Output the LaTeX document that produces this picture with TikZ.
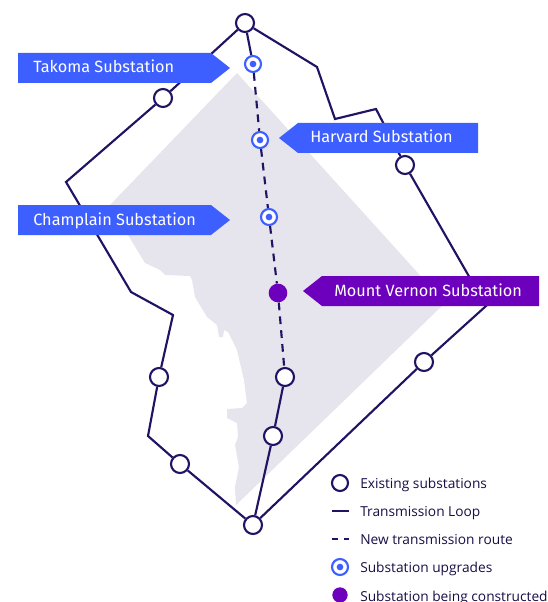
\documentclass[tikz,border=0pt]{standalone}
\usepackage{fontspec}
\setmainfont{Fira Sans}
\newfontfamily\legendfont{Open Sans}
\definecolor{navy}{HTML}{1F1464}
\definecolor{lblue}{HTML}{3E5FFF}
\definecolor{lpurple}{HTML}{6D00BD}
\definecolor{mapgray}{HTML}{E6E5EE}
\tikzset{
  loopline/.style={draw=navy,line width=1.6pt,line join=miter},
  newroute/.style={draw=navy,line width=1.6pt,dash pattern=on 5.8pt off 4.6pt},
  existing/.style={circle,draw=navy,fill=white,line width=1.6pt,minimum size=13.5pt,inner sep=0pt},
  upgrade/.style={circle,draw=lblue,fill=white,line width=1.6pt,minimum size=12pt,inner sep=0pt,
    path picture={\fill[lblue] (path picture bounding box.center) circle (2.5pt);}},
  newsub/.style={circle,fill=lpurple,minimum size=14pt,inner sep=0pt},
  tag/.style={text=white,font=\fontsize{12.2pt}{14pt}\selectfont,anchor=base west,inner sep=0pt},
  legendtext/.style={text=navy!70!black,font=\legendfont\fontsize{10.3pt}{12pt}\selectfont,anchor=base west,inner sep=0pt},
}
\begin{document}
\begin{tikzpicture}[x=0.75pt,y=-0.75pt]
\useasboundingbox (0,0) rectangle (547,602);
\fill[mapgray] (237,73) -- (445,303) -- (236,505) -- (235,487) -- (239,467) -- (235,445) -- (238,437) -- (237,423) -- (227,418) -- (227,409) -- (242,408) -- (247,403) -- (244,380) -- (240,363) -- (237,350) -- (228,332) -- (224,330) -- (223,337) -- (219,337) -- (217,325) -- (207,317) -- (195,297) -- (192,280) -- (190,276) -- (165,275) -- (160,270) -- (145,263) -- (128,235) -- (110,205) -- cycle;
% substations
\node[existing] (top) at (245,23) {};
\node[existing] (n1) at (163,98) {};
\node[existing] (e1) at (405,165) {};
\node[existing] (e2) at (424,362) {};
\node[existing] (w1) at (159,377) {};
\node[existing] (w2) at (180,464) {};
\node[existing] (s1) at (285,377) {};
\node[existing] (s2) at (273,436) {};
\node[existing] (bot) at (253,525) {};
\node[upgrade] (tak) at (253,64) {};
\node[upgrade] (har) at (260,140) {};
\node[upgrade] (cha) at (269,217) {};
\node[newsub] (mv) at (278,293) {};
% bends
\coordinate (b1) at (317,67);
\coordinate (b2) at (335,119);
\coordinate (b3) at (376,109);
\coordinate (b4) at (486,306);
\coordinate (b5) at (66,182);
\coordinate (b6) at (131,292);
\coordinate (b7) at (173,315);
\coordinate (b8) at (148,436);
% loop
\draw[loopline] (top) -- (b1) -- (b2) -- (b3) -- (e1);
\draw[loopline] (e1) -- (b4) -- (e2);
\draw[loopline] (e2) -- (bot);
\draw[loopline] (top) -- (n1);
\draw[loopline] (n1) -- (b5) -- (b6) -- (b7) -- (w1);
\draw[loopline] (w1) -- (b8) -- (w2);
\draw[loopline] (w2) -- (bot);
\draw[loopline] (top) -- (tak);
\draw[loopline] (s1) -- (s2);
\draw[loopline] (s2) -- (bot);
% new route
\draw[newroute] (tak) -- (har);
\draw[newroute] (har) -- (cha);
\draw[newroute] (cha) -- (mv);
\draw[newroute] (mv) -- (s1);
% tags
\fill[lblue] (18,53) -- (211,53) -- (230,68) -- (211,83) -- (18,83) -- cycle;
\node[tag] (taktext) at (33,73) {Takoma Substation};
\fill[lblue] (18,205) -- (211,205) -- (230,220) -- (211,235) -- (18,235) -- cycle;
\node[tag] (chatext) at (33,225) {Champlain Substation};
\fill[lblue] (279,138) -- (298,123) -- (478,123) -- (478,153) -- (298,153) -- cycle;
\node[tag] (hartext) at (310,143) {Harvard Substation};
\fill[lpurple] (303,291) -- (322,276) -- (539,276) -- (539,306) -- (322,306) -- cycle;
\node[tag] (mvtext) at (334,296) {Mount Vernon Substation};
% legend
\node[existing,minimum size=12pt] (k1) at (340,483) {};
\node[legendtext] (t1) at (360,488) {Existing substations};
\coordinate (k2a) at (332,511); \coordinate (k2b) at (349,511);
\draw[loopline] (k2a) -- (k2b);
\node[legendtext] (t2) at (360,516) {Transmission Loop};
\coordinate (k3a) at (332,539); \coordinate (k3b) at (349,539);
\draw[newroute,dash pattern=on 4.5pt off 4.5pt] (k3a) -- (k3b);
\node[legendtext] (t3) at (360,544) {New transmission route};
\node[upgrade] (k4) at (340,567) {};
\node[legendtext] (t4) at (360,572) {Substation upgrades};
\node[newsub,minimum size=11.5pt] (k5) at (340,595) {};
\node[legendtext] (t5) at (360,601) {Substation being constructed};
\end{tikzpicture}
\end{document}
